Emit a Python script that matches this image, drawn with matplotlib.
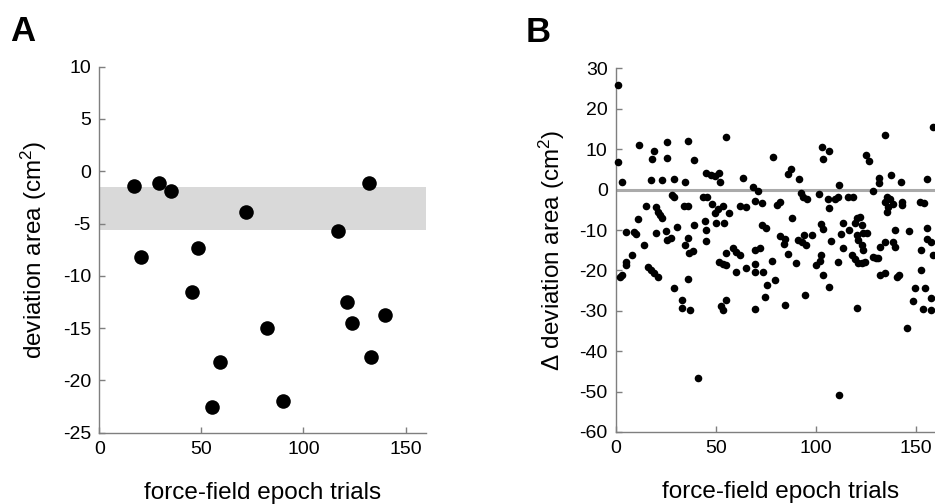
import matplotlib
matplotlib.use("Agg")
import matplotlib.pyplot as plt

plt.rcParams["font.family"] = ["Liberation Sans", "DejaVu Sans"]
plt.rcParams["mathtext.fontset"] = "custom"
plt.rcParams["mathtext.rm"] = "Liberation Sans"
plt.rcParams["mathtext.it"] = "Liberation Sans:italic"
plt.rcParams["axes.unicode_minus"] = False

# ---- panel A data ----
a_trials = [17.1, 20.2, 29.2, 35.1, 45.2, 48.1, 55.0, 59.1, 71.8, 81.9,
            90.0, 117.0, 121.4, 124.0, 132.0, 133.0, 140.1]
a_area = [-1.4, -8.2, -1.1, -1.9, -11.5, -7.3, -22.5, -18.2, -3.9, -15.0,
          -22.0, -5.7, -12.5, -14.5, -1.1, -17.8, -13.7]
a_band = (-5.6, -1.5)

# ---- panel B data ----
b_trials = [
    0.8, 0.8, 2.8, 11.7, 17.8, 18.8, 17.3, 22.8, 25.7, 25.7, 29.0, 34.7, 36.2, 38.8,
    44.8, 47.3, 49.7, 51.7, 52.0, 54.8, 63.7,
    28.0, 29.0, 15.0, 19.8, 20.8, 22.0, 22.8, 10.8, 4.8, 9.0, 10.0, 14.0, 7.8, 4.8,
    5.0, 1.8, 3.2,
    20.0, 25.0, 25.7, 27.5, 30.7, 34.0, 35.8, 34.5, 36.2, 36.7, 38.7, 38.8, 43.5, 45.5,
    47.8, 44.7, 44.8, 44.8, 49.5, 49.8, 51.0, 53.7, 54.0, 56.7, 62.0, 64.8,
    15.8, 17.3, 19.2, 20.8, 35.8, 29.0, 33.0, 33.0, 37.0, 40.8, 51.7, 53.7, 54.8, 52.3,
    53.7, 54.8, 58.7, 59.8, 54.8, 59.8, 64.8, 62.0,
    78.7, 85.8, 87.5, 91.7, 102.8, 106.7, 103.7, 68.7, 71.2, 69.5, 72.8, 80.7, 81.8,
    92.5, 93.7, 95.3, 101.5, 106.7, 111.5, 106.2, 109.5, 111.2, 116.2, 118.7, 125.0,
    126.7, 128.7, 131.7, 131.7, 134.5, 137.5, 142.5, 135.3, 137.0, 134.5, 138.7, 142.8,
    142.8, 135.3, 136.2, 155.3, 158.7, 152.0, 154.2,
    87.8, 72.8, 74.8, 82.0, 84.5, 84.2, 90.8, 92.8, 94.8, 94.2, 98.2, 102.5, 103.7,
    69.5, 72.0, 69.5, 69.5, 73.7, 77.8, 85.8, 89.8, 99.8, 101.8, 102.5, 103.7, 106.5,
    79.7, 75.5, 74.7, 94.7, 69.7, 84.7, 110.8, 111.5, 120.3,
    113.7, 116.5, 120.3, 122.0, 119.5, 122.8, 112.5, 107.5, 113.7, 120.3, 123.7, 125.3,
    121.2, 122.8, 123.7, 117.8, 119.5, 121.2, 122.8, 124.5,
    128.7, 130.0, 131.2, 132.0, 134.5, 138.7, 139.5, 139.5, 146.7, 155.3, 155.3, 157.5,
    152.5, 158.7,
    132.0, 134.5, 140.3, 141.5, 152.5, 149.5, 154.5, 148.7, 157.5, 153.5, 157.5, 145.3,
]
b_delta = [
    25.9, 6.9, 1.8, 11.0, 7.6, 9.6, 2.4, 2.4, 11.7, 7.9, 2.6, 1.8, 12.0, 7.3,
    4.2, 3.6, 3.4, 4.2, 2.0, 13.1, 2.9,
    -1.3, -1.9, -4.0, -4.4, -5.5, -6.3, -7.0, -7.3, -10.4, -10.4, -11.0, -13.7, -16.2, -17.8,
    -18.6, -21.6, -21.1,
    -10.8, -10.2, -12.5, -11.9, -9.2, -4.1, -4.1, -13.7, -11.9, -15.6, -15.2, -8.7, -1.9, -1.8,
    -3.5, -7.8, -10.0, -12.7, -5.9, -8.3, -4.9, -4.0, -8.3, -5.9, -4.0, -4.2,
    -19.1, -19.8, -20.6, -21.7, -22.0, -24.4, -27.3, -29.4, -29.8, -46.7, -17.8, -18.4, -18.7, -28.8,
    -29.8, -27.2, -14.5, -15.4, -15.8, -20.5, -19.5, -16.2,
    8.1, 4.0, 5.0, 2.6, 10.6, 9.6, 7.6, 0.7, -0.3, -2.7, -3.4, -3.8, -3.0,
    -0.9, -1.8, -2.4, -1.1, -4.6, 1.1, -2.2, -2.2, -1.8, -1.8, -1.9, 8.7,
    7.2, -0.3, 2.8, 1.7, 13.5, 3.6, 1.8, -1.8, -2.2, -3.0, -3.6, -3.0,
    -3.8, -5.5, -4.2, 2.6, 15.6, -3.0, -3.4,
    -7.1, -8.8, -9.6, -11.4, -12.1, -13.5, -12.5, -12.9, -13.7, -11.2, -11.2, -8.6, -9.8,
    -15.0, -14.5, -18.4, -20.3, -20.3, -17.6, -16.0, -18.2, -18.7, -17.6, -16.2, -21.1, -24.0,
    -22.3, -23.5, -26.5, -26.1, -29.5, -28.6, -17.9, -50.8, -29.2,
    -8.3, -10.0, -7.1, -6.7, -8.3, -8.8, -11.1, -12.7, -14.5, -11.2, -10.8, -10.8,
    -12.5, -13.7, -14.9, -16.2, -17.2, -18.2, -18.2, -17.8,
    -16.6, -16.8, -16.9, -14.1, -12.9, -12.9, -14.1, -10.0, -10.2, -9.6, -12.1, -12.9,
    -15.0, -16.2,
    -21.1, -20.7, -21.6, -21.1, -19.9, -24.4, -24.3, -27.6, -26.9, -29.6, -29.8, -34.2,
]

W, H = 935, 504
fig = plt.figure(figsize=(W / 100, H / 100), dpi=100)

SPINE = "#7f7f7f"
TICK_FS = 14
LABEL_FS = 17.5


def style(ax):
    for s in ("top", "right"):
        ax.spines[s].set_visible(False)
    for s in ("left", "bottom"):
        ax.spines[s].set_color(SPINE)
        ax.spines[s].set_linewidth(1.0)
    ax.tick_params(direction="in", length=4, width=1, colors=SPINE,
                   labelcolor="black", labelsize=TICK_FS, pad=6)


# panel A
axA = fig.add_axes([99.3 / W, (H - 432.7) / H, 326.7 / W, 366 / H])
axA.axhspan(a_band[0], a_band[1], xmin=0, xmax=1, color="#d9d9d9", lw=0, zorder=1)
axA.scatter(a_trials, a_area, s=110, color="black", lw=0, zorder=3, clip_on=False)
axA.set_xlim(0, 160)
axA.set_ylim(-25, 10)
axA.set_xticks([0, 50, 100, 150])
axA.set_yticks([-25, -20, -15, -10, -5, 0, 5, 10])
style(axA)
axA.set_xlabel("force-field epoch trials", fontsize=LABEL_FS, labelpad=17)
axA.set_ylabel("deviation area (cm$^2$)", fontsize=LABEL_FS, labelpad=10)
fig.text(10 / W, 1 - 41 / H, "A", fontsize=25, fontweight="bold")

# panel B
axB = fig.add_axes([616 / W, (H - 432) / H, 330 / W, 363.5 / H])
axB.axhline(0, color="#aaaaaa", lw=2.2, zorder=2)
axB.scatter(b_trials, b_delta, s=30, color="black", lw=0, zorder=3, clip_on=False)
axB.set_xlim(0, 165)
axB.set_ylim(-60, 30)
axB.set_xticks([0, 50, 100, 150])
axB.set_yticks(range(-60, 31, 10))
style(axB)
axB.set_xlabel("force-field epoch trials", fontsize=LABEL_FS, labelpad=17)
axB.set_ylabel("Δ deviation area (cm$^2$)", fontsize=LABEL_FS, labelpad=9)
fig.text(526 / W, 1 - 42 / H, "B", fontsize=25, fontweight="bold")

fig.savefig("out.png", dpi=100)
